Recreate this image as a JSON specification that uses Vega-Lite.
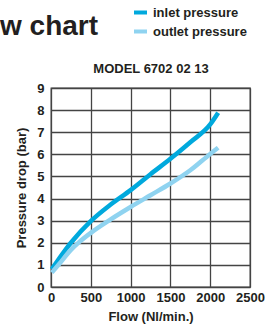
{
  "$schema": "https://vega.github.io/schema/vega-lite/v6.json",
  "autosize": "none",
  "width": 199,
  "height": 199,
  "padding": {"left": 51, "top": 88, "right": 15, "bottom": 42},
  "background": "white",
  "title": {
    "text": "w chart",
    "anchor": "start",
    "frame": "group",
    "dx": -51,
    "dy": 59,
    "offset": 0,
    "baseline": "alphabetic",
    "fontSize": 28,
    "font": "Liberation Sans",
    "fontWeight": "bold",
    "color": "#231f20"
  },
  "config": {
    "view": {"stroke": "#444444", "strokeWidth": 1.3},
    "font": "Liberation Sans"
  },
  "data": {
    "values": [
      {"flow": 10, "pressure": 0.8, "series": "inlet pressure"},
      {"flow": 100, "pressure": 1.27, "series": "inlet pressure"},
      {"flow": 250, "pressure": 2.0, "series": "inlet pressure"},
      {"flow": 500, "pressure": 2.98, "series": "inlet pressure"},
      {"flow": 750, "pressure": 3.73, "series": "inlet pressure"},
      {"flow": 1000, "pressure": 4.38, "series": "inlet pressure"},
      {"flow": 1250, "pressure": 5.1, "series": "inlet pressure"},
      {"flow": 1500, "pressure": 5.8, "series": "inlet pressure"},
      {"flow": 1750, "pressure": 6.55, "series": "inlet pressure"},
      {"flow": 2000, "pressure": 7.35, "series": "inlet pressure"},
      {"flow": 2100, "pressure": 7.88, "series": "inlet pressure"},
      {"flow": 10, "pressure": 0.65, "series": "outlet pressure"},
      {"flow": 100, "pressure": 1.03, "series": "outlet pressure"},
      {"flow": 250, "pressure": 1.68, "series": "outlet pressure"},
      {"flow": 350, "pressure": 2.02, "series": "outlet pressure"},
      {"flow": 500, "pressure": 2.45, "series": "outlet pressure"},
      {"flow": 750, "pressure": 3.06, "series": "outlet pressure"},
      {"flow": 1000, "pressure": 3.62, "series": "outlet pressure"},
      {"flow": 1250, "pressure": 4.15, "series": "outlet pressure"},
      {"flow": 1500, "pressure": 4.68, "series": "outlet pressure"},
      {"flow": 1750, "pressure": 5.28, "series": "outlet pressure"},
      {"flow": 2000, "pressure": 6.02, "series": "outlet pressure"},
      {"flow": 2100, "pressure": 6.3, "series": "outlet pressure"}
    ]
  },
  "layer": [
    {
      "mark": {"type": "line", "strokeWidth": 4.5, "interpolate": "monotone", "strokeCap": "butt"},
      "encoding": {
        "x": {
          "field": "flow", "type": "quantitative",
          "scale": {"domain": [0, 2500], "nice": false},
          "axis": {
            "values": [0, 500, 1000, 1500, 2000, 2500],
            "format": "d",
            "title": "Flow (Nl/min.)",
            "ticks": false, "domain": false,
            "grid": true, "gridColor": "#444444", "gridWidth": 1.3, "gridOpacity": 1,
            "labelFontSize": 13, "labelFontWeight": "bold", "labelColor": "#231f20", "labelPadding": 4,
            "labelFlush": false,
            "titleFontSize": 13, "titleFontWeight": "bold", "titleColor": "#231f20", "titlePadding": 6
          }
        },
        "y": {
          "field": "pressure", "type": "quantitative",
          "scale": {"domain": [0, 9], "nice": false},
          "axis": {
            "values": [0, 1, 2, 3, 4, 5, 6, 7, 8, 9],
            "title": "Pressure drop (bar)",
            "ticks": false, "domain": false,
            "grid": true, "gridColor": "#444444", "gridWidth": 1.3, "gridOpacity": 1,
            "labelFontSize": 13, "labelFontWeight": "bold", "labelColor": "#231f20", "labelPadding": 7,
            "labelFlush": false,
            "titleFontSize": 13, "titleFontWeight": "bold", "titleColor": "#231f20", "titlePadding": 8
          }
        },
        "color": {
          "field": "series", "type": "nominal",
          "scale": {"domain": ["inlet pressure", "outlet pressure"], "range": ["#00a9dd", "#8fd3f0"]},
          "legend": {
            "orient": "none", "legendX": 81, "legendY": -84,
            "title": null, "symbolType": "stroke", "symbolStrokeWidth": 4, "symbolSize": 169,
            "labelFontSize": 13, "labelFontWeight": "bold", "labelColor": "#231f20",
            "labelOffset": 4, "rowPadding": 2, "padding": 0
          }
        }
      }
    },
    {
      "mark": {"type": "line", "opacity": 0},
      "encoding": {
        "x": {
          "field": "flow", "type": "quantitative",
          "axis": {
            "orient": "top", "title": "MODEL 6702 02 13",
            "labels": false, "ticks": false, "domain": false, "grid": false,
            "titleFontSize": 13, "titleFontWeight": "bold", "titleColor": "#231f20", "titlePadding": 13
          }
        }
      }
    }
  ],
  "resolve": {"axis": {"x": "independent"}}
}
